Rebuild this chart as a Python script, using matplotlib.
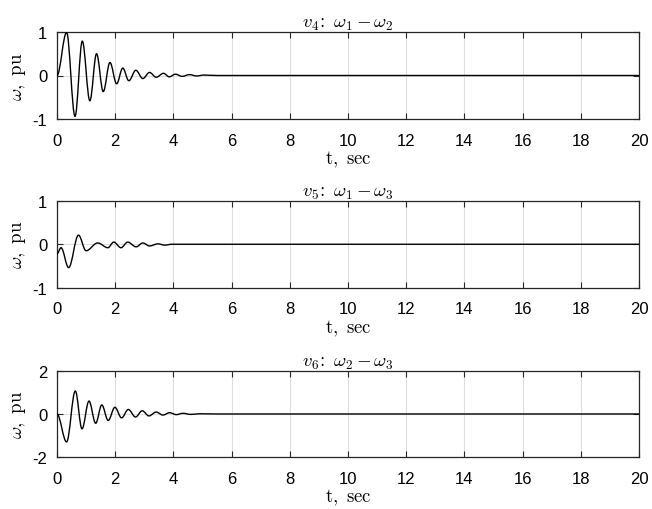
import matplotlib
matplotlib.use('Agg')
import matplotlib.pyplot as plt
from matplotlib.path import Path
from matplotlib.patches import PathPatch

# Extrema of each trace (time in s, value in pu)
v4_t = [0.0, 0.33, 0.62, 0.87, 1.13, 1.36, 1.59, 1.82, 2.05, 2.26, 2.47, 2.71, 2.95,
        3.18, 3.41, 3.66, 3.86, 4.07, 4.30, 4.55, 4.80, 5.05, 5.50, 20.0]
v4_v = [0.0, 0.99, -0.94, 0.79, -0.58, 0.50, -0.37, 0.30, -0.19, 0.17, -0.12, 0.12, -0.07,
        0.07, -0.04, 0.05, -0.03, 0.03, -0.02, 0.02, -0.01, 0.01, 0.0, 0.0]

v5_t = [0.0, 0.14, 0.40, 0.74, 1.00, 1.40, 1.75, 1.95, 2.20, 2.43, 2.72, 2.95, 3.18,
        3.47, 3.70, 3.95, 4.50, 20.0]
v5_v = [-0.22, -0.08, -0.54, 0.21, -0.15, 0.03, -0.08, 0.05, -0.08, 0.05, -0.06, 0.03, -0.04,
        0.01, -0.02, 0.0, 0.0, 0.0]

v6_t = [0.0, 0.33, 0.63, 0.86, 1.10, 1.33, 1.54, 1.76, 1.99, 2.22, 2.45, 2.70, 2.93,
        3.16, 3.41, 3.64, 3.87, 4.10, 4.33, 4.60, 4.90, 5.50, 20.0]
v6_v = [0.0, -1.30, 1.07, -0.69, 0.60, -0.43, 0.42, -0.30, 0.31, -0.18, 0.21, -0.14, 0.15,
        -0.09, 0.09, -0.05, 0.06, -0.03, 0.03, -0.02, 0.01, 0.0, 0.0]

titles = [r'$v_4\!:\ \omega_1 - \omega_2$', r'$v_5\!:\ \omega_1 - \omega_3$', r'$v_6\!:\ \omega_2 - \omega_3$']
ylims = [(-1, 1), (-1, 1), (-2, 2)]
yticks = [[-1, 0, 1], [-1, 0, 1], [-2, 0, 2]]
xticks = [0, 2, 4, 6, 8, 10, 12, 14, 16, 18, 20]

plt.rcParams['mathtext.fontset'] = 'cm'
plt.rcParams['axes.unicode_minus'] = False
plt.rcParams['font.family'] = ['Liberation Sans', 'DejaVu Sans']

fig = plt.figure(figsize=(6.52, 5.10), dpi=100)
positions = [
    [0.0874, 0.7647, 0.8926, 0.1706],
    [0.0874, 0.4343, 0.8926, 0.1696],
    [0.0874, 0.1020, 0.8926, 0.1686],
]
series = [(v4_t, v4_v), (v5_t, v5_v), (v6_t, v6_v)]
dark = '#262626'
A = 0.363  # bezier handle fraction that approximates a half-cosine

for i, (pos, (ts, vs)) in enumerate(zip(positions, series)):
    ax = fig.add_axes(pos)
    verts = [(ts[0], vs[0])]
    codes = [Path.MOVETO]
    for k in range(len(ts) - 1):
        t0, v0, t1, v1 = ts[k], vs[k], ts[k + 1], vs[k + 1]
        dt = t1 - t0
        verts += [(t0 + A * dt, v0), (t1 - A * dt, v1), (t1, v1)]
        codes += [Path.CURVE4] * 3
    ax.add_patch(PathPatch(Path(verts, codes), fill=False, edgecolor='black', lw=1.0, zorder=3))
    ax.set_xlim(0, 20)
    ax.set_ylim(*ylims[i])
    ax.set_xticks(xticks)
    ax.set_yticks(yticks[i])
    ax.grid(True, color='#dedede', lw=0.8)
    ax.set_axisbelow(True)
    ax.tick_params(direction='in', top=True, right=True, length=4, width=0.8,
                   colors=dark, labelsize=12, labelcolor='black')
    ax.tick_params(axis='x', pad=10)
    ax.tick_params(axis='y', pad=7)
    for s in ax.spines.values():
        s.set_color(dark)
        s.set_linewidth(0.9)
    ax.set_title(titles[i], fontsize=13.5, pad=4)
    ax.set_xlabel(r'$\mathrm{t,\ sec}$', fontsize=13.5, labelpad=1)
    ax.set_ylabel(r'$\omega\mathrm{,\ pu}$', fontsize=13.5, labelpad=3)

fig.savefig('out.png', dpi=100, facecolor='white')
